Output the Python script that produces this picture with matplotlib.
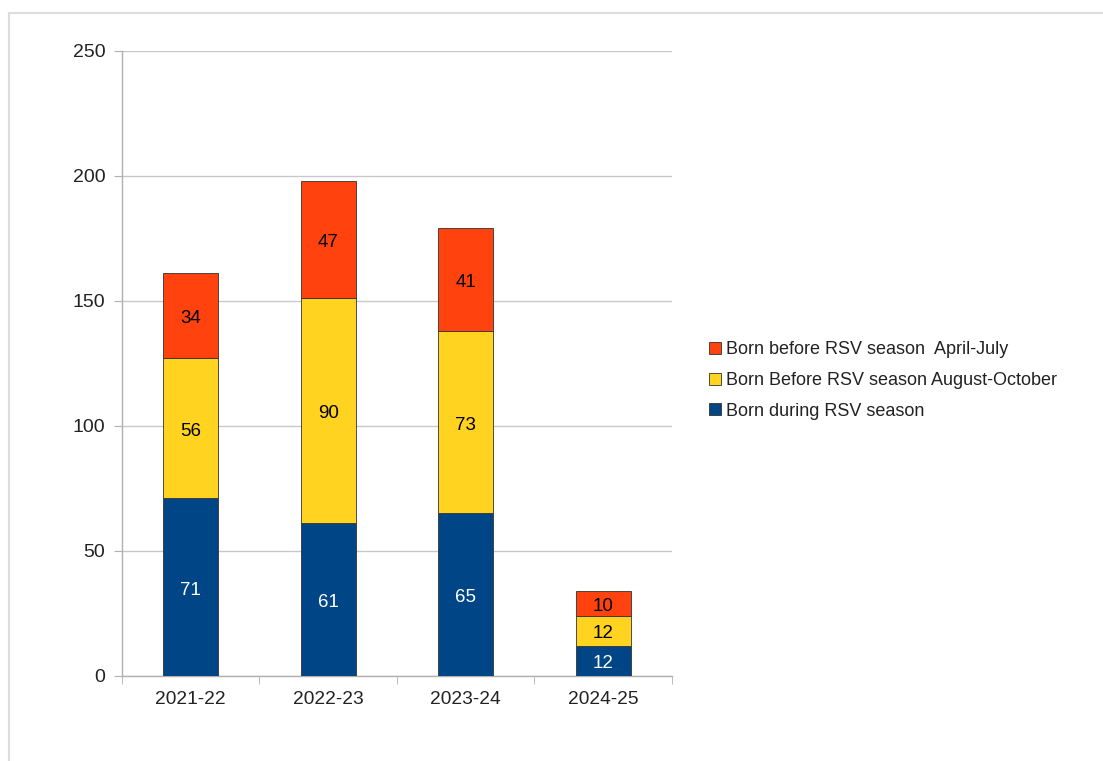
import matplotlib.pyplot as plt
import numpy as np
from matplotlib.lines import Line2D
from matplotlib.patches import Patch

seasons = ["2021-22", "2022-23", "2023-24", "2024-25"]
born_during = [71, 61, 65, 12]
born_aug_oct = [56, 90, 73, 12]
born_apr_jul = [34, 47, 41, 10]

series_names = [
    "Born during RSV season",
    "Born Before RSV season August-October",
    "Born before RSV season  April-July",
]
colors = ["#004586", "#ffd320", "#ff420e"]
label_colors = ["white", "black", "black"]

plt.rcParams["font.family"] = ["Liberation Sans", "DejaVu Sans"]

fig = plt.figure(figsize=(11.03, 7.61), dpi=100)
ax = fig.add_axes([0.1106, 0.1117, 0.4986, 0.8213])

# thin frame around the chart area (top and left only)
fig.add_artist(Line2D([9 / 1103, 1.0], [1 - 12.5 / 761] * 2, color="#dddddd", lw=1.5))
fig.add_artist(Line2D([9 / 1103] * 2, [0, 1 - 12.5 / 761], color="#dddddd", lw=1.5))

x = np.arange(len(seasons))
bottom = np.zeros(len(seasons))
for values, color, name, tcol in zip(
    [born_during, born_aug_oct, born_apr_jul], colors, series_names, label_colors
):
    vals = np.array(values, dtype=float)
    ax.bar(x, vals, width=0.4, bottom=bottom, color=color,
           edgecolor="#333333", linewidth=0.6, label=name, zorder=3)
    for xi, b, v in zip(x, bottom, vals):
        ax.annotate(f"{int(v)}", (xi, b + v / 2), xytext=(0, -2),
                    textcoords="offset points", ha="center", va="center",
                    fontsize=13.5, color=tcol, zorder=4)
    bottom += vals

ax.set_xlim(-0.5, len(seasons) - 0.5)
ax.set_ylim(0, 250)
ax.set_yticks(range(0, 251, 50))
ax.yaxis.grid(True, color="#c8c8c8", lw=1, zorder=0)

ax.set_xticks(x)
ax.set_xticklabels(seasons)
ax.set_xticks(np.arange(-0.5, len(seasons), 1.0), minor=True)
ax.tick_params(axis="x", which="major", length=0, pad=11, labelsize=13.8, labelcolor="#222222")
ax.tick_params(axis="x", which="minor", length=6, color="#b0b0b0", direction="out")
ax.tick_params(axis="y", length=6, color="#b0b0b0", pad=6, labelsize=14, labelcolor="#222222")

for side in ["top", "right"]:
    ax.spines[side].set_visible(False)
for side in ["left", "bottom"]:
    ax.spines[side].set_color("#b0b0b0")
    ax.spines[side].set_linewidth(1)

handles = [Patch(facecolor=c, edgecolor="#333333", linewidth=0.6) for c in colors]
fig.legend(handles[::-1], series_names[::-1], loc="center left",
           bbox_to_anchor=(0.628, 0.5), frameon=False, fontsize=13,
           handlelength=0.65, handleheight=0.65, handletextpad=0.3,
           labelspacing=0.75, labelcolor="#222222")

fig.savefig("out.png", dpi=100)
